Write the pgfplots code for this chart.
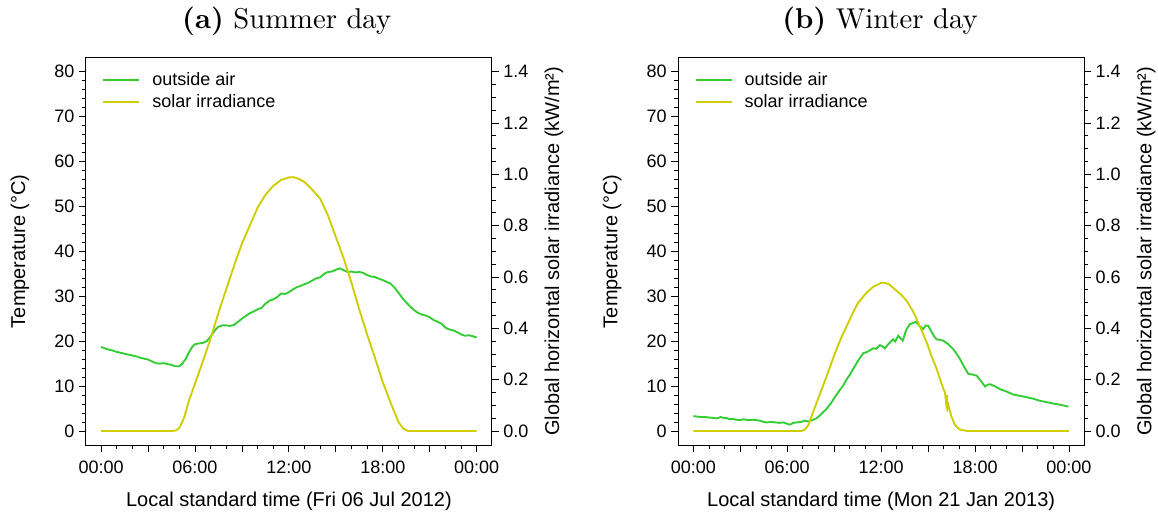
\documentclass[border=0pt]{standalone}
\usepackage{fontspec}
\setsansfont{Liberation Sans}
\newfontfamily\titlefont[Extension=.otf, UprightFont=lmroman10-regular, BoldFont=lmroman10-bold]{lmroman10}
\usepackage{pgfplots}
\pgfplotsset{compat=1.18}

\definecolor{airgreen}{RGB}{50,205,50}
\definecolor{sunyellow}{RGB}{205,205,0}

\newcommand{\axfont}{\sffamily\fontsize{13.5}{16}\selectfont}
\newcommand{\labfont}{\sffamily\fontsize{15}{18}\selectfont}

\pgfplotsset{
  rbase/.style={
    scale only axis, width=304.3pt, height=291pt,
    anchor=south west,
    xmin=-0.96, xmax=24.96,
    tick align=outside,
    major tick length=5.25pt, minor tick length=3pt,
    tick style={black, line width=0.6pt},
    axis line style={line width=0.75pt},
    tick label style={font=\axfont},
    label style={font=\labfont},
    /pgf/number format/assume math mode=true,
  },
  leftax/.style={
    rbase,
    ymin=-3.2, ymax=83.2,
    xtick={0,3,6,9,12,15,18,21,24},
    xticklabels={00:00,,06:00,,12:00,,18:00,,00:00},
    minor xtick={0,1,...,24},
    xtick pos=lower,
    xticklabel style={yshift=-3pt},
    ytick={0,10,20,30,40,50,60,70,80},
    yticklabels={0,10,20,30,40,50,60,70,80},
    minor ytick={0,2,...,80},
    ytick pos=left,
    ylabel={Temperature (°C)},
    ylabel style={at={(axis description cs:-0.163,0.5)}, anchor=center, rotate=0},
    xlabel style={at={(axis description cs:0.5,-0.1435)}, anchor=center},
  },
  rightax/.style={
    rbase,
    ymin=-0.056, ymax=1.456,
    axis x line=none,
    axis y line*=right,
    ytick={0,0.2,0.4,0.6,0.8,1.0,1.2,1.4},
    yticklabels={0.0,0.2,0.4,0.6,0.8,1.0,1.2,1.4},
    minor ytick={0,0.05,...,1.4},
    ylabel={Global horizontal solar irradiance (kW/m²)},
    ylabel style={at={(axis description cs:1.1535,0.5)}, anchor=center, rotate=0},
    legend style={at={(axis description cs:0.03,0.975)}, anchor=north west,
      draw=none, fill=none, font=\axfont, row sep=1pt, column sep=7pt},
    legend cell align=left,
    legend image code/.code={\draw[#1] (0pt,0pt) -- (27pt,0pt);},
  },
}

\begin{document}
\begin{tikzpicture}
\useasboundingbox (0,0) rectangle (868.5pt,387pt);

\node[font=\titlefont\fontsize{21.5}{24}\selectfont] at (215pt,371.25pt) {\textbf{(a)} Summer day};
\node[font=\titlefont\fontsize{21.5}{24}\selectfont] at (660pt,371.25pt) {\textbf{(b)} Winter day};

% ---------- (a) summer ----------
\begin{axis}[leftax, at={(64.5pt,53pt)}, xlabel={Local standard time (Fri 06 Jul 2012)}]
\addplot[airgreen, line width=1.4pt] coordinates {
(0,18.7) (0.25,18.4) (0.5,18.1) (0.75,17.9) (1.0,17.6) (1.25,17.4) (1.5,17.2) (1.75,17.0)
(2.0,16.8) (2.25,16.6) (2.5,16.3) (2.75,16.1) (3.0,15.9) (3.25,15.5) (3.5,15.1) (3.75,15.0)
(4.0,15.1) (4.25,14.9) (4.5,14.7) (4.75,14.4) (5.0,14.4) (5.2,15.0) (5.4,16.0) (5.6,17.4)
(5.8,18.6) (6.0,19.3) (6.25,19.5) (6.5,19.6) (6.75,20.0) (7.0,21.0) (7.25,22.3) (7.5,23.2)
(7.75,23.5) (8.0,23.5) (8.25,23.4) (8.5,23.6) (8.75,24.3) (9.0,25.0) (9.25,25.6) (9.5,26.2)
(9.75,26.6) (10.0,27.1) (10.25,27.4) (10.5,28.3) (10.75,29.0) (11.0,29.3) (11.25,29.8) (11.5,30.6)
(11.75,30.5) (12.0,30.9) (12.25,31.5) (12.5,32.0) (12.75,32.3) (13.0,32.7) (13.25,33.0) (13.5,33.5)
(13.75,34.0) (14.0,34.2) (14.25,35.0) (14.5,35.4) (14.75,35.5) (15.0,35.9) (15.25,36.2) (15.5,35.8)
(15.75,35.4) (16.0,35.5) (16.25,35.3) (16.5,35.4) (16.75,35.2) (17.0,34.7) (17.25,34.4) (17.5,34.3)
(17.75,33.9) (18.0,33.6) (18.25,33.2) (18.5,32.8) (18.75,31.9) (19.0,30.8) (19.25,29.6) (19.5,28.6)
(19.75,27.7) (20.0,26.9) (20.25,26.3) (20.5,25.9) (20.75,25.7) (21.0,25.3) (21.25,24.7) (21.5,24.3)
(21.75,23.9) (22.0,23.0) (22.25,22.6) (22.5,22.4) (22.75,22.0) (23.0,21.5) (23.25,21.2) (23.5,21.3)
(23.75,21.1) (24.0,20.8)
};
\end{axis}
\begin{axis}[rightax, at={(64.5pt,53pt)}]
\addlegendimage{airgreen, line width=1.4pt}
\addlegendentry{outside air}
\addplot[sunyellow, line width=1.4pt] coordinates {
(0,0) (4.5,0) (4.8,0.002) (5.0,0.012) (5.3,0.05) (5.65,0.124) (6.0,0.184) (6.5,0.27)
(7.0,0.36) (7.5,0.46) (8.0,0.553) (8.5,0.644) (9.0,0.73) (9.5,0.80) (10.0,0.87) (10.5,0.92)
(11.0,0.955) (11.5,0.978) (12.0,0.988) (12.3,0.989) (12.6,0.983) (13.0,0.97) (13.5,0.94) (14.0,0.905)
(14.5,0.84) (15.0,0.756) (15.5,0.673) (16.0,0.577) (16.5,0.473) (17.0,0.376) (17.5,0.285) (18.0,0.19)
(18.5,0.11) (18.8,0.065) (19.0,0.035) (19.3,0.01) (19.6,0.0) (24,0)
};
\addlegendentry{solar irradiance}
\end{axis}

% ---------- (b) winter ----------
\begin{axis}[leftax, at={(508.7pt,53pt)}, xlabel={Local standard time (Mon 21 Jan 2013)}]
\addplot[airgreen, line width=1.4pt] coordinates {
(0,3.3) (0.25,3.2) (0.5,3.1) (0.75,3.1) (1.0,3.0) (1.26,2.9) (1.5,2.8) (1.75,3.1)
(2.0,2.8) (2.11,2.9) (2.3,2.6) (2.5,2.7) (2.75,2.5) (2.96,2.4) (3.2,2.6) (3.5,2.4)
(3.81,2.5) (4.0,2.4) (4.25,2.3) (4.5,2.0) (4.67,1.9) (5.0,2.0) (5.25,1.9) (5.52,1.8)
(5.75,1.9) (6.0,1.6) (6.16,1.4) (6.4,1.8) (6.59,1.9) (6.9,2.0) (7.1,2.3) (7.34,2.1)
(7.6,2.4) (7.87,2.8) (8.1,3.5) (8.3,4.2) (8.51,4.9) (8.8,6.2) (9.0,7.3) (9.3,8.8)
(9.57,10.1) (9.8,11.5) (10.0,12.5) (10.21,13.8) (10.5,15.5) (10.85,17.3) (11.1,17.6) (11.3,18.0)
(11.49,18.4) (11.7,18.3) (11.92,19.1) (12.1,18.8) (12.24,18.4) (12.45,19.3) (12.6,19.8) (12.77,20.4)
(12.9,19.9) (13.09,21.2) (13.25,20.6) (13.38,20.1) (13.6,22.5) (13.84,23.8) (14.0,24.0) (14.23,24.3)
(14.45,23.4) (14.69,22.7) (14.85,23.5) (15.01,23.4) (15.2,22.2) (15.4,21.0) (15.55,20.4) (15.75,20.3)
(15.97,20.1) (16.3,19.3) (16.61,18.2) (16.8,17.3) (17.04,16.0) (17.3,14.3) (17.57,12.7) (17.8,12.6)
(18.11,12.3) (18.4,11.0) (18.64,9.9) (18.8,10.3) (18.96,10.4) (19.3,9.9) (19.6,9.3) (20.0,8.8)
(20.45,8.1) (20.9,7.8) (21.31,7.5) (21.7,7.2) (22.16,6.7) (22.6,6.4) (23.0,6.1) (23.5,5.8)
(23.97,5.4)
};
\end{axis}
\begin{axis}[rightax, at={(508.7pt,53pt)}]
\addlegendimage{airgreen, line width=1.4pt}
\addlegendentry{outside air}
\addplot[sunyellow, line width=1.4pt] coordinates {
(0,0) (6.9,0) (7.1,0.004) (7.34,0.021) (7.65,0.073) (8.0,0.13) (8.29,0.176) (8.6,0.227)
(9.0,0.295) (9.15,0.319) (9.5,0.37) (10.0,0.435) (10.21,0.462) (10.5,0.497) (11.07,0.539) (11.5,0.562)
(12.0,0.577) (12.13,0.578) (12.5,0.572) (12.99,0.546) (13.3,0.53) (13.63,0.507) (14.0,0.47) (14.27,0.436)
(14.6,0.39) (14.91,0.345) (15.2,0.295) (15.55,0.241) (15.8,0.195) (16.0,0.16) (16.08,0.15) (16.15,0.11)
(16.2,0.14) (16.25,0.09) (16.3,0.10) (16.36,0.086) (16.5,0.055) (16.72,0.023) (17.0,0.006) (17.47,0)
(24,0)
};
\addlegendentry{solar irradiance}
\end{axis}
\end{tikzpicture}
\end{document}
